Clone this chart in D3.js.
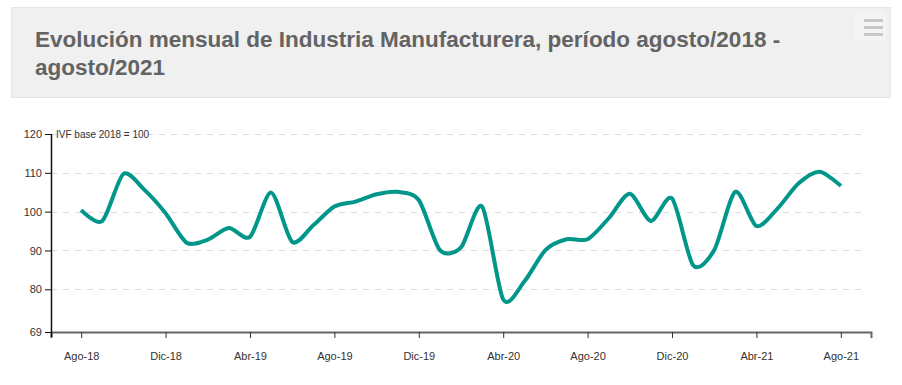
<!DOCTYPE html>
<html lang="es">
<head>
    <meta charset="UTF-8">
    <title>Industria Manufacturera</title>
    <style>
      body { margin: 0; background: #fff; font-family: Arial, "Liberation Sans", sans-serif; }
      .head {
        position: absolute; left: 11px; top: 7px; width: 880px; height: 91px;
        background: #f0f0f0; border: 1px solid #e6e6e6; box-sizing: border-box;
      }
      .head h2 {
        margin: 0; position: absolute; left: 23px; top: 18px; width: 800px;
        font-size: 22.5px; line-height: 28px; font-weight: bold; color: #636363;
      }
      .menu { position: absolute; right: 4px; top: 4px; width: 32px; height: 28px; background: #f4f4f4; border-radius: 3px; }
      .menu span { position: absolute; left: 10px; width: 19px; height: 3px; background: #c8c8c8; }
      svg { position: absolute; left: 0; top: 0; }
    </style>
</head>
<body>
    <div class="head">
      <h2>Evolución mensual de Industria Manufacturera, período agosto/2018 - agosto/2021</h2>
      <div class="menu"><span style="top:7px"></span><span style="top:14px"></span><span style="top:21px"></span></div>
    </div>
    <svg></svg>
    <script src="https://d3js.org/d3.v7.min.js"></script>
    <script>
      const months = ["Ene", "Feb", "Mar", "Abr", "May", "Jun", "Jul", "Ago", "Sep", "Oct", "Nov", "Dic"];
      // agosto 2018 .. agosto 2021
      const periods = [];
      for (let i = 0; i < 37; i++) {
        const m = (7 + i) % 12, y = 18 + Math.floor((7 + i) / 12);
        periods.push(months[m] + "-" + y);
      }
      const ivf = [
        100.4, 97.6, 109.7, 105.6, 99.6, 92.0, 92.8, 95.8, 93.5, 104.9,
        92.2, 96.5, 101.3, 102.6, 104.5, 105.1, 103.0, 90.1, 90.8, 101.3,
        77.4, 82.0, 90.1, 92.9, 92.9, 98.3, 104.6, 97.6, 103.4, 86.2,
        90.1, 105.1, 96.3, 100.8, 107.3, 110.3, 106.6
      ];
      const yTicks = [69, 80, 90, 100, 110, 120];
      const gridTicks = [80, 90, 100, 110, 120];
      const xTickLabels = ["Ago-18", "Dic-18", "Abr-19", "Ago-19", "Dic-19", "Abr-20", "Ago-20", "Dic-20", "Abr-21", "Ago-21"];

      const width = 902, height = 385;
      const padding = { top: 134, right: 31, bottom: 53, left: 51 };

      const svg = d3.select("svg").attr("width", width).attr("height", height);

      const xScale = d3.scalePoint()
          .domain(periods)
          .range([padding.left, width - padding.right])
          .padding(1.43);

      const yScale = d3.scaleLinear()
          .domain([69, 120])
          .range([height - padding.bottom, padding.top]);

      // grid
      svg.append("g")
          .selectAll("line")
          .data(gridTicks)
          .join("line")
            .attr("x1", padding.left)
            .attr("x2", width - padding.right - 5)
            .attr("y1", d => Math.round(yScale(d)) + 0.5)
            .attr("y2", d => Math.round(yScale(d)) + 0.5)
            .attr("stroke", "#dcdcdc")
            .attr("stroke-dasharray", "6,6");

      // x axis
      const xAxis = svg.append("g")
          .attr("transform", `translate(0,${height - padding.bottom})`)
          .call(d3.axisBottom(xScale).tickValues(xTickLabels).tickSize(6).tickSizeOuter(6).tickPadding(14));
      xAxis.select(".domain").attr("stroke", "#666").attr("stroke-width", 2);
      xAxis.selectAll(".tick line").attr("stroke", "#333");
      xAxis.selectAll("text").attr("font-size", 11).attr("fill", "#333").attr("font-family", "Arial, 'Liberation Sans', sans-serif");

      // y axis
      const yAxis = svg.append("g")
          .attr("transform", `translate(${padding.left},0)`)
          .call(d3.axisLeft(yScale).tickValues(yTicks).tickSize(6).tickSizeOuter(0).tickPadding(3));
      yAxis.select(".domain").attr("stroke", "#111").attr("stroke-width", 1.5)
          .attr("d", `M0.5,${padding.top}V${height - padding.bottom + 5}`);
      yAxis.selectAll(".tick line").attr("stroke", "#111");
      yAxis.selectAll("text").attr("font-size", 11).attr("fill", "#333").attr("font-family", "Arial, 'Liberation Sans', sans-serif");

      svg.append("text")
          .attr("x", padding.left + 5)
          .attr("y", padding.top + 4)
          .attr("font-size", 10)
          .attr("fill", "#333")
          .text("IVF base 2018 = 100");

      const line = d3.line()
          .x((d, i) => xScale(periods[i]))
          .y(d => yScale(d))
          .curve(d3.curveCardinal.tension(0.2));

      svg.append("path")
          .datum(ivf)
          .attr("fill", "none")
          .attr("stroke", "#00968a")
          .attr("stroke-width", 4)
          .attr("stroke-linejoin", "round")
          .attr("d", line);
    </script>
</body>
</html>
